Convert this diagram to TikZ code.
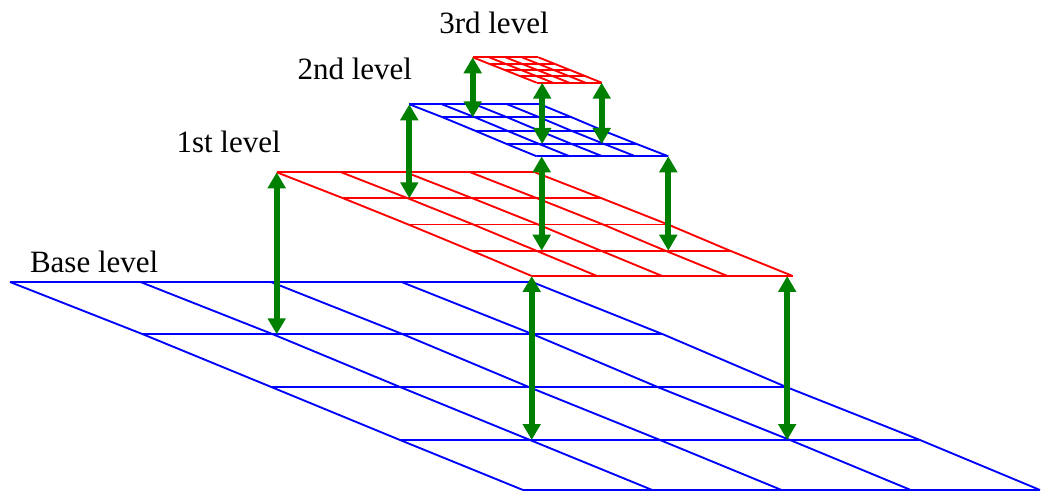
\documentclass[tikz,border=0pt]{standalone}
\usepackage{fontspec}
\setmainfont{Liberation Serif}
\usetikzlibrary{calc,arrows.meta}
\definecolor{arrgreen}{RGB}{0,128,0}
\tikzset{
  gridblue/.style={draw=blue,line width=1.4pt,line join=round},
  gridred/.style={draw=red,line width=1.4pt,line join=round},
  dblarrow/.style={draw=arrgreen,line width=4.5pt,
    {Triangle[width=13pt,length=12pt]}-{Triangle[width=13pt,length=12pt]}},
  lbl/.style={inner sep=0pt,outer sep=0pt,anchor=base west,font=\fontsize{23.25}{28}\selectfont}
}
\newcommand{\gridlevel}[2]{%
  \foreach \k in {0,...,4} {\draw[#2] (#1\k L) -- (#1\k R);}
  \foreach \j in {0,...,4} {\draw[#2]
    ($(#10L)!\j/4!(#10R)$) -- ($(#11L)!\j/4!(#11R)$) --
    ($(#12L)!\j/4!(#12R)$) -- ($(#13L)!\j/4!(#13R)$) --
    ($(#14L)!\j/4!(#14R)$);}
}
\begin{document}
\begin{tikzpicture}[x=0.75pt,y=-0.75pt]
\useasboundingbox (0,0) rectangle (1042,491);
% base level
\coordinate (b0L) at (10,282);    \coordinate (b0R) at (532,282);
\coordinate (b1L) at (143,334.3); \coordinate (b1R) at (663,334.3);
\coordinate (b2L) at (272,387.3); \coordinate (b2R) at (787,387.3);
\coordinate (b3L) at (400,440);   \coordinate (b3R) at (920,440);
\coordinate (b4L) at (523,490);   \coordinate (b4R) at (1040,490);
% 1st level
\coordinate (r0L) at (276.7,172.3); \coordinate (r0R) at (535,172.3);
\coordinate (r1L) at (343.3,198.3); \coordinate (r1R) at (601.7,198.3);
\coordinate (r2L) at (408.3,224.5); \coordinate (r2R) at (668,224.5);
\coordinate (r3L) at (471.7,250.7); \coordinate (r3R) at (730,250.7);
\coordinate (r4L) at (531.7,276);   \coordinate (r4R) at (792.7,276);
% 2nd level
\coordinate (s0L) at (409.3,104.3); \coordinate (s0R) at (540,104.3);
\coordinate (s1L) at (442.7,117.3); \coordinate (s1R) at (571.7,117.3);
\coordinate (s2L) at (475,130.7);   \coordinate (s2R) at (603.3,130.7);
\coordinate (s3L) at (506.7,144);   \coordinate (s3R) at (636.7,144);
\coordinate (s4L) at (536.7,156.3); \coordinate (s4R) at (668.3,156.3);
% 3rd level
\coordinate (t0L) at (472.7,57.3);  \coordinate (t0R) at (538.3,57.3);
\coordinate (t1L) at (488.7,63.65); \coordinate (t1R) at (554.15,63.65);
\coordinate (t2L) at (504.7,70);    \coordinate (t2R) at (570,70);
\coordinate (t3L) at (520.7,76.35); \coordinate (t3R) at (585.85,76.35);
\coordinate (t4L) at (536.7,82.7);  \coordinate (t4R) at (601.7,82.7);

\gridlevel{b}{gridblue}
\gridlevel{r}{gridred}
\gridlevel{s}{gridblue}
\gridlevel{t}{gridred}

% arrow anchor points (as placed in the reference)
\coordinate (a13) at ($(r4R)+(-5.5,0)$);
\coordinate (a22) at ($(s4L)+(5,0)$);
\coordinate (a32) at ($(t4L)+(5.5,0)$);

% arrows 1st -> base
\draw[dblarrow] (r0L) -- (r0L |- b1L);
\draw[dblarrow] (r4L) -- (r4L |- b3L);
\draw[dblarrow] (a13) -- (a13 |- b3L);
% arrows 2nd -> 1st
\draw[dblarrow] (s0L) -- (s0L |- r1L);
\draw[dblarrow] (a22) -- (a22 |- r3L);
\draw[dblarrow] (s4R) -- (s4R |- r3L);
% arrows 3rd -> 2nd
\draw[dblarrow] (t0L) -- (t0L |- s1L);
\draw[dblarrow] (a32) -- (a32 |- s3L);
\draw[dblarrow] (t4R) -- (t4R |- s3L);

% labels
\node[lbl] (lab3) at (439.3,33.3) {3rd level};
\node[lbl] (lab2) at (297.5,80) {2nd level};
\node[lbl] (lab1) at (176.5,152.7) {1st level};
\node[lbl] (lab0) at (30,272.3) {Base level};
\end{tikzpicture}
\end{document}
